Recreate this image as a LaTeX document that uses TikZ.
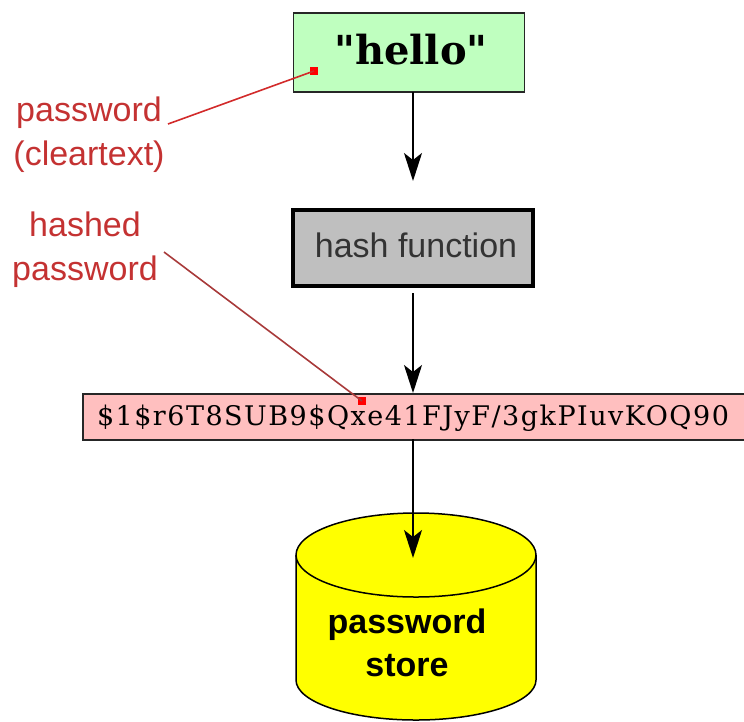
\documentclass[tikz,border=0pt]{standalone}
\usepackage{fontspec}
\setmainfont{Liberation Sans}
\newfontfamily\serifhello{DejaVu Serif}
\newfontfamily\serifhash[LetterSpace=5.5]{DejaVu Serif}
\usetikzlibrary{arrows.meta}
\definecolor{hellogreen}{HTML}{BFFFBF}
\definecolor{hashgray}{HTML}{BFBFBF}
\definecolor{hashpink}{HTML}{FFBFBF}
\definecolor{storeyellow}{HTML}{FFFF00}
\definecolor{labelred}{HTML}{C43232}
\definecolor{leaderred}{HTML}{D22A2A}
\definecolor{leaderdark}{HTML}{A83A3A}
\tikzset{
  flow/.style={draw=black,line width=1.8pt,-{Stealth[length=28pt,width=18pt,inset=7pt]}},
  boxed/.style={draw=black!85,line width=1.6pt,inner sep=0pt,anchor=north west},
  redlabel/.style={text=labelred,font=\fontsize{34}{44}\selectfont,align=center,inner sep=0pt},
  dot/.style={fill=red,draw=none,minimum size=8pt,inner sep=0pt,shape=rectangle}
}
\begin{document}
\begin{tikzpicture}[x=1pt,y=-1pt]
\useasboundingbox (0,0) rectangle (744,721);
% cylinder
\path[fill=storeyellow,draw=black,line width=1.5pt]
  (296,555) -- (296,680) arc[start angle=180,end angle=0,x radius=120,y radius=40]
  -- (536,555) arc[start angle=360,end angle=180,x radius=120,y radius=42] -- cycle;
\draw[black,line width=1.5pt] (296,555) arc[start angle=180,end angle=0,x radius=120,y radius=42];
\node[font=\bfseries\fontsize{34}{43}\selectfont,align=center,inner sep=0pt] (store) at (407,643) {password\\store};
\coordinate (storetop) at (413,558);
% boxes
\node[boxed,fill=hellogreen,minimum width=231pt,minimum height=79pt] (hello) at (292.5,12) {};
\node[font=\serifhello\bfseries\fontsize{40}{46}\selectfont] at (411,50) {"hello"};
\node[boxed,draw=black,fill=hashgray,line width=4pt,minimum width=240pt,minimum height=76pt] (hash) at (291,208) {};
\node[font=\fontsize{34}{40}\selectfont,text=black!80] at (416,245) {hash function};
\node[boxed,fill=hashpink,minimum width=664pt,minimum height=46pt] (crypt) at (82,393) {};
\node[font=\serifhash\fontsize{27}{31}\selectfont,text=black] at (413,418) {\$1\$r6T8SUB9\$Qxe41FJyF/3gkPIuvKOQ90};
% arrows
\coordinate (a1) at (413,92); \coordinate (a1e) at (413,181);
\coordinate (a2) at (413,293); \coordinate (a2e) at (413,393);
\coordinate (a3) at (413,439);
\draw[flow] (a1) -- (a1e);
\draw[flow] (a2) -- (a2e);
\draw[flow] (a3) -- (storetop);
% labels
\node[redlabel] (pw) at (89,135) {password\\(cleartext)};
\node[redlabel] (hp) at (85,250) {hashed\\password};
\coordinate (pwstart) at (168,124);
\coordinate (hpstart) at (164,252);
\node[dot] (d1) at (314,71) {};
\node[dot] (d2) at (362,401) {};
\draw[leaderred,line width=1.6pt] (pwstart) -- (d1.center);
\draw[leaderdark,line width=1.6pt] (hpstart) -- (d2.center);
\end{tikzpicture}
\end{document}
